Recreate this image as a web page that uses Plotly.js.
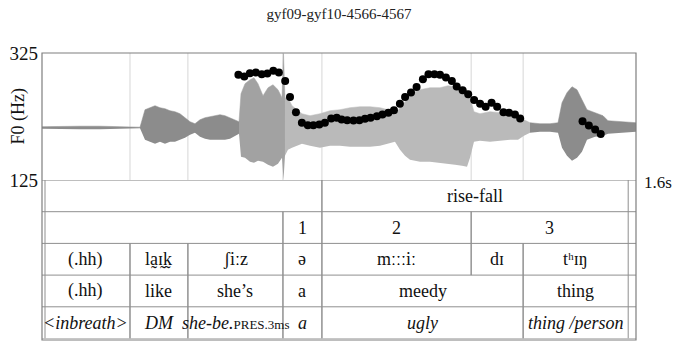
<!DOCTYPE html>
<html>
<head>
<meta charset="utf-8">
<script src="https://cdn.plot.ly/plotly-3.0.1.min.js"></script>
<style>html,body{margin:0;padding:0;background:#fff;}#chart{width:675px;height:342px;}</style>
</head>
<body>
<div id="chart"></div>
<script>
// ---------- data ----------
const chartTitle = 'gyf09-gyf10-4566-4567';
const timeMax = 1.6;
const f0Range = [125, 325];
const f0TickVals = [125, 325];

// F0 track (s, Hz)
const f0Time = [0.529,0.545,0.560,0.576,0.592,0.607,0.623,0.638,0.655,0.668,0.684,0.700,0.716,0.731,0.747,0.762,0.779,0.794,
  0.807,0.822,0.839,0.855,0.870,0.885,0.902,0.917,0.933,0.948,0.964,0.978,0.994,1.009,1.026,1.041,1.057,1.072,1.088,1.104,
  1.117,1.133,1.148,1.164,1.180,1.195,1.211,1.226,1.243,1.258,1.274,1.288,
  1.456,1.473,1.490,1.505];
const f0Hz = [290.6,288.0,293.3,294.4,291.7,292.8,296.9,294.4,281.0,255.6,231.8,215.0,211.2,211.2,212.3,215.0,221.8,222.9,
  220.2,219.1,218.7,219.1,221.3,222.9,225.5,228.2,230.9,235.0,245.2,255.6,262.6,271.5,283.7,291.7,291.7,290.6,286.4,281.0,
  272.1,266.3,259.9,250.9,245.2,240.4,246.7,240.4,231.8,230.9,228.2,221.8,
  217.5,210.7,204.4,197.5];

// waveform envelope (s, relative amplitude above / below the centre line)
const waveTime = [0,0.0485,0.1024,0.1562,0.2101,0.2236,0.2640,0.2774,0.2909,0.3044,0.3178,0.3313,0.3448,0.3582,0.3717,0.3852,
  0.3987,0.4121,0.4256,0.4391,0.4525,0.4660,0.4795,0.4929,0.5064,0.5199,0.5306,0.5360,0.5468,0.5603,0.5710,0.5818,0.5953,
  0.6088,0.6222,0.6357,0.6465,0.6505,0.6545,0.6626,0.6734,0.6869,0.7003,0.7219,0.7488,0.7758,0.8027,0.8296,0.8566,0.8835,
  0.9104,0.9320,0.9508,0.9643,0.9778,0.9912,1.0182,1.0451,1.0721,1.0936,1.1125,1.1313,1.1448,1.1529,1.1636,1.1798,1.2067,
  1.2337,1.2606,1.2822,1.2983,1.3145,1.3414,1.3684,1.3899,1.4007,1.4141,1.4276,1.4411,1.4545,1.4680,1.4896,1.5111,1.5246,
  1.5569,1.6];
const waveTop = [1,1.5,1.5,1.5,1,0.5,0.5,18,20,22,20,19,17,16,14,10,
  6,4,8,10,11,12,13,12,10,8,6,34,44,48,50,44,32,
  40,43,38,30,74,30,30,22,18,14,12,14,17,18,20,21,21,
  20,18,13,20,26,34,38,40,40,42,41,39,38,30,16,14,16,
  15,14,12,8,5,4,4,5,25,35,41,38,28,18,15,12,7,
  6,5];
const waveBottom = [1,1.5,1.5,1.5,1,0.5,0.5,12,14,16,14,16,14,14,12,10,
  7,5,9,11,12,12,12,12,11,8,6,29,30,34,35,33,34,
  37,39,36,30,52,28,22,20,18,16,18,20,18,18,19,19,19,
  18,16,14,22,28,32,34,34,35,36,37,38,39,30,14,13,14,
  13,12,12,8,5,4,4,5,20,28,33,30,24,12,9,8,6,
  5,4];
// index ranges of the waveform and their shade
const waveParts = [[0, 26, '#8c8c8c'], [26, 38, '#a2a2a2'], [38, 71, '#bababa'], [71, 85, '#8c8c8c']];

// segment boundaries (s)
const segBounds = [0, 0.237, 0.393, 0.649, 0.754, 1.156, 1.296, 1.579];
// tiers: [startBoundary, endBoundary, label]
const tierTune   = [[0,4,''],[4,7,'rise-fall']];
const tierFeet   = [[0,3,''],[3,4,'1'],[4,5,'2'],[5,7,'3']];
const tierPhones = [[0,1,'(.hh)'],[1,2,'la\u0330\u026A\u0330k\u0330'],[2,3,'\u0283i\u02D0z'],[3,4,'\u0259'],
                    [4,5,'m\u02D0\u02D0\u02D0i\u02D0'],[5,6,'d\u026A'],[6,7,'t\u02B0\u026A\u014B']];
const tierWords  = [[0,1,'(.hh)'],[1,2,'like'],[2,3,'she\u2019s'],[3,4,'a'],[4,6,'meedy'],[6,7,'thing']];
const tierGloss  = [[0,1,'<i>&lt;inbreath&gt;</i>'],[1,2,'<i>DM</i>'],
                    [2,3,'<i>she-be.</i><span style="font-size:13px">PRES.3ms</span>'],[3,4,'<i>a</i>'],
                    [4,6,'<i>ugly</i>'],[6,7,'<i>thing /person</i>']];
const tiers = [tierTune, tierFeet, tierPhones, tierWords, tierGloss];

// ---------- styles ----------
const serif = '"Liberation Serif", "Times New Roman", serif';
const frameCol = '#7f7f7f';
const tableCol = '#8f8f8f';
const gridCol = '#d6d6d6';
const f0Dom = [160/287, 1];
const tabDom = [1.5/287, 160/287];

const traces = [];
waveParts.forEach(p => {
  const xs = waveTime.slice(p[0], p[1] + 1);
  traces.push({x: xs, y: waveBottom.slice(p[0], p[1] + 1).map(v => -v), yaxis: 'y', type: 'scatter', mode: 'lines',
    line: {width: 0, color: p[2]}, hoverinfo: 'skip', showlegend: false});
  traces.push({x: xs, y: waveTop.slice(p[0], p[1] + 1), yaxis: 'y', type: 'scatter', mode: 'lines', fill: 'tonexty',
    fillcolor: p[2], line: {width: 0.5, color: p[2]}, hoverinfo: 'skip', showlegend: false});
});
traces.push({x: f0Time, y: f0Hz, yaxis: 'y3', type: 'scatter', mode: 'markers',
   marker: {color: '#000', size: 8}, showlegend: false, name: 'F0'});

const shapes = [];
[1,2,3,4,5,6].forEach(i => shapes.push({type:'line', xref:'x', yref:'paper', x0:segBounds[i], x1:segBounds[i],
  y0:f0Dom[0], y1:1, line:{color:gridCol, width:1}, layer:'below'}));
for (let r = 0; r <= 5; r++) {
  shapes.push({type:'line', xref:'paper', yref:'y2', x0:0, x1:1, y0:r, y1:r, line:{color: r===0 ? frameCol : tableCol, width:1}});
}
tiers.forEach((tier, r) => {
  tier.forEach(c => {
    [c[0], c[1]].forEach(b => {
      if (b > 0) shapes.push({type:'line', xref:'x', yref:'y2', x0:segBounds[b], x1:segBounds[b], y0:r, y1:r+1,
        line:{color:tableCol, width:1}});
    });
  });
});
shapes.push({type:'line', xref:'paper', yref:'y2', x0:3/594, x1:3/594, y0:0, y1:5, line:{color:tableCol, width:1}});
shapes.push({type:'rect', xref:'paper', yref:'paper', x0:0, x1:1, y0:0, y1:1, line:{color:frameCol, width:1.2}});

const annotations = [];
tiers.forEach((tier, r) => {
  tier.forEach(c => {
    if (!c[2]) return;
    annotations.push({xref:'x', yref:'y2', x:(segBounds[c[0]] + segBounds[c[1]])/2, y:r + 0.5, yshift:0,
      text:c[2], showarrow:false, font:{family:serif, size:18, color:'#111'}});
  });
});
annotations.push({xref:'paper', yref:'paper', x:0, xshift:-24, xanchor:'center', y:(f0Dom[0]+1)/2, yanchor:'middle',
  text:'F0 (Hz)', textangle:-90, showarrow:false, font:{family:serif, size:18, color:'#111'}});
annotations.push({xref:'paper', yref:'paper', x:1, xanchor:'left', xshift:6, y:f0Dom[0], yanchor:'middle', yshift:-2,
  text: timeMax + 's', showarrow:false, font:{family:serif, size:17, color:'#111'}});

const layout = {
  width: 675, height: 342,
  margin: {l:42, r:39, t:53, b:2, pad:0},
  paper_bgcolor: '#fff', plot_bgcolor: '#fff',
  title: {text: chartTitle, font: {family: serif, size: 15, color: '#222'}, x: 0.5, xref: 'paper',
          y: 1 - 14/342, yref: 'container', yanchor: 'middle'},
  xaxis: {range: [0, timeMax], visible: false, domain: [0, 1], fixedrange: true},
  yaxis: {domain: f0Dom, range: [-52.3, 74.7], visible: false, fixedrange: true},
  yaxis2: {domain: tabDom, range: [5, 0], visible: false, anchor: 'x', fixedrange: true},
  yaxis3: {overlaying: 'y', side: 'left', range: f0Range, tickvals: f0TickVals, ticktext: f0TickVals.map(String), ticks: '',
          showgrid: false, zeroline: false, showline: false, tickfont: {family: serif, size: 19, color: '#111'},
          ticklabelstandoff: 3, fixedrange: true},
  shapes: shapes,
  annotations: annotations,
  showlegend: false
};

Plotly.newPlot('chart', traces, layout, {displayModeBar: false, staticPlot: true});
</script>
</body>
</html>
